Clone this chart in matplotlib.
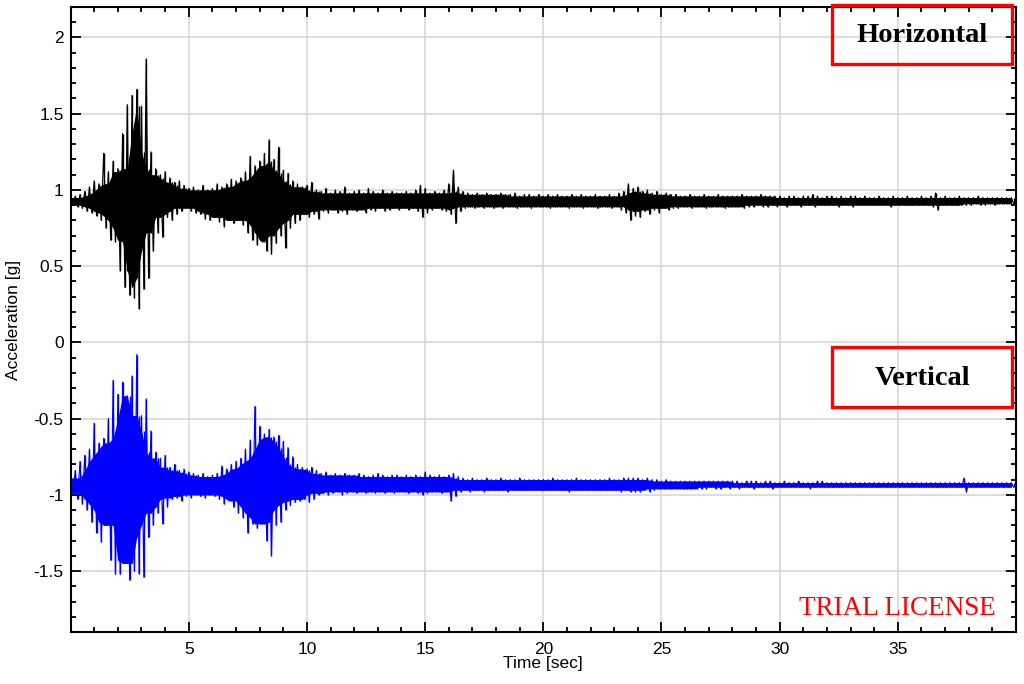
import matplotlib
matplotlib.use("Agg")
import matplotlib.pyplot as plt
import numpy as np
from matplotlib.patches import Rectangle
from matplotlib.ticker import MultipleLocator, FuncFormatter

STEP = 0.2

horiz_hi = [
    0.95, 0.96, 0.97, 0.99, 1.02, 1.06, 1.04, 1.24, 1.12, 1.19,
    1.14, 1.37, 1.56, 1.62, 1.66, 1.55, 1.86, 1.25, 1.14, 1.10,
    1.12, 1.08, 1.05, 1.06, 1.03, 1.01, 1.02, 1.00, 1.03, 1.00,
    1.01, 1.04, 1.02, 1.04, 1.07, 1.06, 1.08, 1.12, 1.22, 1.16,
    1.19, 1.24, 1.33, 1.20, 1.28, 1.13, 1.11, 1.06, 1.04, 1.02,
    1.03, 1.05, 1.00, 0.99, 1.01, 0.98, 1.00, 0.99, 1.02, 0.98,
    0.99, 1.00, 0.98, 1.01, 0.99, 0.98, 1.00, 0.98, 0.99, 0.98,
    0.98, 0.99, 0.98, 1.00, 1.03, 1.01, 0.98, 0.99, 0.98, 1.00,
    1.04, 1.13, 1.02, 0.99, 0.98, 0.97, 0.98, 0.97, 0.98, 0.97,
    0.97, 0.98, 0.97, 0.97, 0.98, 0.96, 0.97, 0.97, 0.96, 0.97,
    0.96, 0.97, 0.96, 0.97, 0.96, 0.96, 0.97, 0.96, 0.97, 0.96,
    0.96, 0.97, 0.96, 0.96, 0.97, 0.96, 0.98, 0.99, 1.04, 1.01,
    1.02, 0.99, 1.00, 0.98, 0.99, 0.97, 0.98, 0.97, 0.97, 0.96,
    0.96, 0.97, 0.96, 0.96, 0.97, 0.96, 0.96, 0.97, 0.96, 0.96,
    0.96, 0.96, 0.97, 0.96, 0.96, 0.96, 0.97, 0.96, 0.96, 0.96,
    0.96, 0.95, 0.96, 0.96, 0.95, 0.96, 0.96, 0.97, 0.96, 0.95,
    0.96, 0.96, 0.95, 0.96, 0.95, 0.96, 0.96, 0.95, 0.96, 0.95,
    0.95, 0.96, 0.95, 0.95, 0.96, 0.95, 0.95, 0.96, 0.95, 0.95,
    0.96, 0.95, 0.96, 0.98, 0.95, 0.96, 0.95, 0.95, 0.96, 0.95,
    0.95, 0.95, 0.96, 0.95, 0.95, 0.95, 0.95, 0.95, 0.95, 0.95,
]

horiz_lo = [
    0.90, 0.89, 0.88, 0.86, 0.85, 0.83, 0.80, 0.75, 0.67, 0.66,
    0.47, 0.36, 0.31, 0.29, 0.22, 0.35, 0.42, 0.60, 0.72, 0.69,
    0.82, 0.80, 0.84, 0.86, 0.88, 0.86, 0.85, 0.84, 0.81, 0.80,
    0.82, 0.79, 0.76, 0.80, 0.78, 0.80, 0.77, 0.72, 0.67, 0.64,
    0.66, 0.60, 0.58, 0.65, 0.70, 0.62, 0.75, 0.78, 0.80, 0.84,
    0.82, 0.84, 0.81, 0.86, 0.85, 0.87, 0.85, 0.86, 0.84, 0.87,
    0.86, 0.87, 0.85, 0.87, 0.86, 0.88, 0.86, 0.87, 0.88, 0.87,
    0.88, 0.87, 0.88, 0.86, 0.82, 0.85, 0.87, 0.88, 0.87, 0.86,
    0.84, 0.78, 0.86, 0.88, 0.89, 0.88, 0.89, 0.88, 0.89, 0.88,
    0.89, 0.88, 0.89, 0.89, 0.88, 0.89, 0.89, 0.88, 0.89, 0.89,
    0.89, 0.88, 0.89, 0.89, 0.89, 0.88, 0.89, 0.89, 0.88, 0.89,
    0.89, 0.88, 0.89, 0.89, 0.88, 0.89, 0.87, 0.85, 0.80, 0.83,
    0.82, 0.86, 0.84, 0.87, 0.85, 0.88, 0.87, 0.88, 0.88, 0.89,
    0.89, 0.88, 0.89, 0.89, 0.88, 0.89, 0.89, 0.89, 0.88, 0.89,
    0.89, 0.89, 0.88, 0.89, 0.89, 0.90, 0.89, 0.89, 0.90, 0.89,
    0.90, 0.89, 0.90, 0.90, 0.89, 0.90, 0.90, 0.89, 0.90, 0.90,
    0.90, 0.90, 0.89, 0.90, 0.90, 0.89, 0.90, 0.90, 0.90, 0.90,
    0.90, 0.90, 0.90, 0.89, 0.90, 0.90, 0.90, 0.90, 0.90, 0.90,
    0.90, 0.90, 0.89, 0.87, 0.90, 0.90, 0.90, 0.90, 0.90, 0.90,
    0.90, 0.91, 0.90, 0.90, 0.91, 0.90, 0.91, 0.91, 0.91, 0.91,
]

vert_hi = [
    -0.89, -0.84, -0.78, -0.74, -0.70, -0.53, -0.66, -0.63, -0.50, -0.25,
    -0.34, -0.26, -0.35, -0.22, -0.08, -0.48, -0.37, -0.58, -0.72, -0.76,
    -0.74, -0.82, -0.80, -0.84, -0.83, -0.85, -0.86, -0.87, -0.86, -0.88,
    -0.87, -0.86, -0.81, -0.83, -0.80, -0.78, -0.76, -0.70, -0.64, -0.42,
    -0.55, -0.60, -0.57, -0.62, -0.61, -0.65, -0.69, -0.75, -0.80, -0.82,
    -0.83, -0.82, -0.84, -0.86, -0.85, -0.87, -0.86, -0.87, -0.86, -0.87,
    -0.87, -0.86, -0.87, -0.88, -0.87, -0.86, -0.87, -0.88, -0.87, -0.87,
    -0.88, -0.87, -0.88, -0.87, -0.88, -0.85, -0.87, -0.88, -0.87, -0.88,
    -0.87, -0.86, -0.88, -0.89, -0.90, -0.89, -0.90, -0.90, -0.89, -0.90,
    -0.90, -0.89, -0.90, -0.90, -0.90, -0.89, -0.90, -0.90, -0.90, -0.90,
    -0.90, -0.90, -0.89, -0.90, -0.90, -0.90, -0.90, -0.89, -0.90, -0.90,
    -0.90, -0.90, -0.90, -0.90, -0.89, -0.90, -0.90, -0.89, -0.89, -0.89,
    -0.89, -0.90, -0.89, -0.90, -0.90, -0.91, -0.90, -0.91, -0.91, -0.91,
    -0.91, -0.91, -0.91, -0.91, -0.91, -0.91, -0.91, -0.91, -0.91, -0.91,
    -0.91, -0.91, -0.92, -0.91, -0.91, -0.91, -0.92, -0.91, -0.91, -0.92,
    -0.92, -0.91, -0.92, -0.92, -0.91, -0.92, -0.92, -0.92, -0.91, -0.91,
    -0.92, -0.92, -0.92, -0.92, -0.92, -0.92, -0.92, -0.92, -0.92, -0.92,
    -0.92, -0.92, -0.92, -0.92, -0.92, -0.92, -0.92, -0.92, -0.92, -0.92,
    -0.92, -0.92, -0.92, -0.92, -0.92, -0.92, -0.92, -0.92, -0.92, -0.89,
    -0.92, -0.92, -0.92, -0.92, -0.92, -0.92, -0.92, -0.92, -0.92, -0.92,
]

vert_lo = [
    -0.99, -1.03, -1.06, -1.10, -1.18, -1.25, -1.31, -1.20, -1.43, -1.52,
    -1.52, -1.45, -1.56, -1.50, -1.52, -1.54, -1.28, -1.20, -1.12, -1.19,
    -1.08, -1.03, -1.02, -1.04, -1.01, -1.02, -1.00, -1.01, -1.02, -1.00,
    -1.01, -1.03, -1.06, -1.04, -1.08, -1.12, -1.15, -1.25, -1.19, -1.22,
    -1.19, -1.30, -1.40, -1.20, -1.18, -1.10, -1.07, -1.05, -1.04, -1.03,
    -1.05, -1.03, -1.00, -0.99, -1.00, -0.99, -0.98, -1.00, -0.99, -0.98,
    -0.99, -0.98, -0.99, -0.98, -0.99, -0.98, -0.99, -0.98, -0.99, -0.98,
    -0.98, -0.99, -0.98, -0.99, -1.00, -0.99, -0.98, -0.98, -0.99, -0.98,
    -1.04, -1.01, -0.98, -0.97, -0.98, -0.97, -0.97, -0.98, -0.97, -0.97,
    -0.97, -0.97, -0.98, -0.97, -0.97, -0.97, -0.97, -0.97, -0.97, -0.97,
    -0.97, -0.97, -0.97, -0.97, -0.97, -0.98, -0.97, -0.97, -0.97, -0.97,
    -0.97, -0.97, -0.97, -0.97, -0.97, -0.97, -0.98, -0.97, -0.98, -0.98,
    -0.98, -0.97, -0.98, -0.97, -0.96, -0.96, -0.96, -0.96, -0.96, -0.96,
    -0.96, -0.96, -0.96, -0.96, -0.96, -0.95, -0.96, -0.96, -0.95, -0.96,
    -0.95, -0.96, -0.95, -0.95, -0.96, -0.95, -0.95, -0.95, -0.96, -0.95,
    -0.95, -0.95, -0.95, -0.95, -0.95, -0.95, -0.96, -0.95, -0.95, -0.95,
    -0.95, -0.95, -0.95, -0.95, -0.95, -0.95, -0.95, -0.95, -0.95, -0.95,
    -0.95, -0.95, -0.95, -0.95, -0.95, -0.95, -0.95, -0.95, -0.95, -0.95,
    -0.95, -0.95, -0.95, -0.95, -0.95, -0.95, -0.95, -0.95, -0.95, -0.98,
    -0.95, -0.95, -0.95, -0.95, -0.95, -0.95, -0.95, -0.95, -0.95, -0.95,
]

x_ticks = [5, 10, 15, 20, 25, 30, 35]
y_ticks = [-1.5, -1, -0.5, 0, 0.5, 1, 1.5, 2]


# Nucleo denso de la senal: el pico mas pequeno entre 5 vecinos
def core(a, upper):
    w = np.lib.stride_tricks.sliding_window_view(np.pad(a, 2, mode='edge'), 5)
    return w.min(axis=1) if upper else w.max(axis=1)


# Dibuja una traza: relleno del nucleo, picos verticales y zigzag
def draw_trace(ax, hi, lo, color):
    hi = np.asarray(hi)
    lo = np.asarray(lo)
    t = np.arange(len(hi)) * STEP
    c_hi = core(hi, True)
    c_lo = core(lo, False)
    ax.fill_between(t, c_lo, c_hi, color=color, lw=0)
    ax.vlines(t, c_lo, hi, color=color, lw=1.0)
    ax.vlines(t + STEP / 2, lo, c_hi, color=color, lw=1.0)
    tt = np.column_stack([t, t + STEP / 2]).ravel()
    yy = np.column_stack([hi, lo]).ravel()
    ax.plot(tt, yy, color=color, lw=0.8)


plt.rcParams['font.family'] = ['Liberation Sans', 'DejaVu Sans']
plt.rcParams['axes.unicode_minus'] = False

fig = plt.figure(figsize=(10.24, 6.84), dpi=100)
ax = fig.add_axes([0.0689, 0.076, 0.9233, 0.9138])

draw_trace(ax, horiz_hi, horiz_lo, 'black')
draw_trace(ax, vert_hi, vert_lo, '#0000ff')

ax.set_xlim(0, 40)
ax.set_ylim(-1.9, 2.2)
ax.set_xticks(x_ticks)
ax.set_yticks(y_ticks)
ax.xaxis.set_minor_locator(MultipleLocator(1))
ax.yaxis.set_minor_locator(MultipleLocator(0.1))
ax.yaxis.set_major_formatter(FuncFormatter(lambda v, p: '%g' % v))

ax.grid(True, which='major', color='#d4d4d4', lw=1.1)
ax.set_axisbelow(True)
for s in ax.spines.values():
    s.set_linewidth(1.5)
ax.tick_params(which='both', direction='in', top=True, right=True,
               width=1.3, labelsize=12.5, colors='black')
ax.tick_params(which='major', length=7)
ax.tick_params(which='minor', length=3.5)
ax.tick_params(axis='x', pad=7)
ax.tick_params(axis='y', pad=5)

ax.set_xlabel('Time [sec]', fontsize=12.5)
ax.set_ylabel('Acceleration [g]', fontsize=12.5)
ax.xaxis.set_label_coords(0.5, -0.038)
ax.yaxis.set_label_coords(-0.052, 0.5)

# Recuadros con el nombre de cada componente
for label, y0, h in [('Horizontal', 0.909, 0.094), ('Vertical', 0.36, 0.096)]:
    ax.add_patch(Rectangle((0.805, y0), 0.191, h, transform=ax.transAxes,
                           fill=False, edgecolor='#ff0000', lw=2.4,
                           clip_on=False, zorder=5))
    ax.text(0.9005, y0 + h / 2 - 0.002, label, transform=ax.transAxes,
            ha='center', va='center', fontsize=20.5, fontweight='bold',
            family=['Liberation Serif', 'DejaVu Serif'], zorder=6)

ax.text(0.874, 0.038, 'TRIAL LICENSE', transform=ax.transAxes,
        ha='center', va='center', fontsize=19.5, color='#ff0000',
        family=['Liberation Serif', 'DejaVu Serif'])

fig.savefig('out.png', dpi=100)
